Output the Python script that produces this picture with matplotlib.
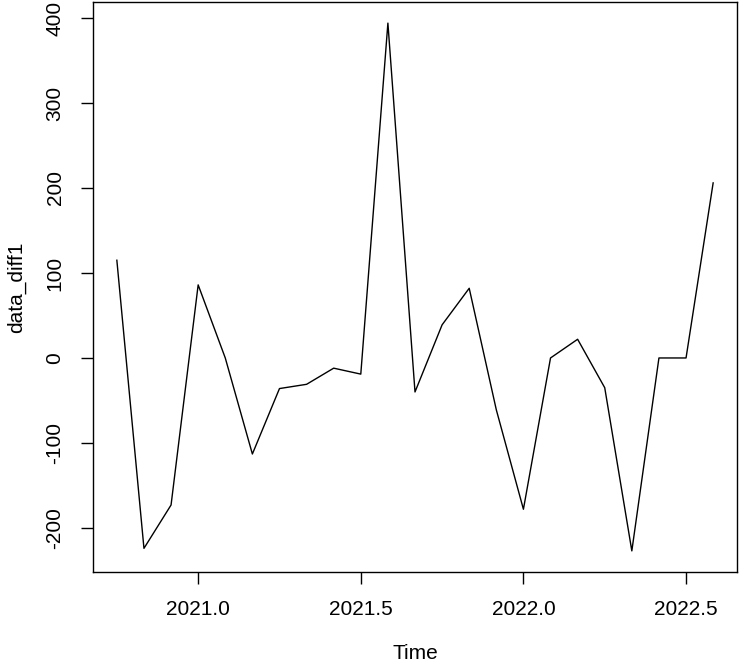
import matplotlib
matplotlib.use("Agg")
import matplotlib.pyplot as plt
import numpy as np

# monthly series, Oct 2020 .. Aug 2022
start_year = 2020.75
data_diff1 = [115, -224, -173, 86, 0, -113, -36, -31, -12, -19, 394, -40,
              39, 82, -61, -178, 0, 22, -35, -227, 0, 0, 206]
x_ticks = [2021.0, 2021.5, 2022.0, 2022.5]
y_ticks = [-200, -100, 0, 100, 200, 300, 400]

time = start_year + np.arange(len(data_diff1)) / 12.0

plt.rcParams['font.family'] = ['Liberation Sans', 'DejaVu Sans']

fig = plt.figure(figsize=(7.4, 6.66), dpi=100)
ax = fig.add_axes([93 / 740, 94 / 666, 644 / 740, 570 / 666])
ax.plot(time, data_diff1, color='black', linewidth=1.0)

# R style 4% padding
xr = time[-1] - time[0]
ax.set_xlim(time[0] - 0.04 * xr, time[-1] + 0.04 * xr)
yr = max(data_diff1) - min(data_diff1)
ax.set_ylim(min(data_diff1) - 0.04 * yr, max(data_diff1) + 0.04 * yr)

ax.set_xticks(x_ticks)
ax.set_xticklabels(["%.1f" % t for t in x_ticks])
ax.set_yticks(y_ticks)
ax.set_yticklabels([str(v) for v in y_ticks], rotation=90, va='center')
ax.tick_params(length=8.5, width=1.0, labelsize=15, pad=12)
for s in ax.spines.values():
    s.set_linewidth(1.0)

ax.set_xlabel("Time", fontsize=15, labelpad=18)
ax.set_ylabel("data_diff1", fontsize=15, labelpad=14)

fig.savefig("out.png", dpi=100)
